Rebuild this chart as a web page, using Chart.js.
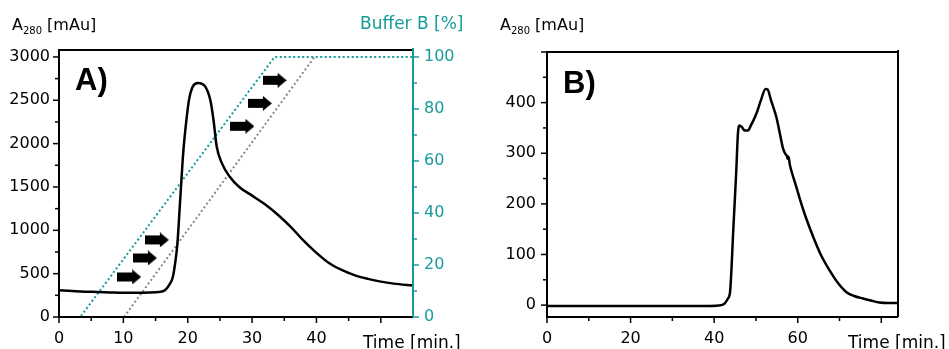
<!DOCTYPE html>
<html>
<head>
<meta charset="utf-8">
<script src="https://cdn.jsdelivr.net/npm/chart.js@4"></script>
<style>
    body { margin: 0; background: #fff; width: 949px; height: 349px; overflow: hidden; position: relative; }
    canvas { position: absolute; top: 0; }
    #chartA { left: 0; }
    #chartB { left: 474px; }
</style>
</head>
<body>
<canvas id="chartA" width="474" height="349"></canvas>
<canvas id="chartB" width="475" height="349"></canvas>
<script>
const TEAL = '#169b9b';
const FONT = "'DejaVu Sans', sans-serif";

// Panel A - absorbance trace
const timeA = [0, 2, 5, 8, 10, 12, 14, 15.5, 16.5, 17.2, 17.7, 18.1, 18.4, 18.8, 19.3, 19.8, 20.2, 20.8, 21.6, 22.7, 23.5, 24.0, 24.5, 25.3, 26.5, 28, 30, 32, 34, 36, 38, 40, 42, 44, 46, 48, 50, 52, 55];
const a280A = [310, 300, 290, 283, 280, 280, 282, 288, 312, 380, 465, 650, 850, 1316, 1894, 2275, 2505, 2660, 2700, 2660, 2505, 2275, 1966, 1775, 1620, 1500, 1400, 1300, 1180, 1040, 880, 740, 620, 540, 480, 440, 408, 385, 362];

// Panel A - gradient (Buffer B) and delayed gradient
const bufferTime = [0, 3.3, 33.5, 55];
const bufferB = [0, 0, 100, 100];
const delayTime = [10.1, 39.7];
const delayB = [0, 100];

// Panel A - arrow markers
const arrowTime = [10.9, 13.35, 15.2, 28.5, 31.2, 33.5];
const arrowA280 = [462, 681, 889, 2200, 2465, 2731];

const xTicksA = [0, 5, 10, 15, 20, 25, 30, 35, 40, 45, 50];
const xMajorA = [0, 10, 20, 30, 40, 50];
const xLabelsA = [0, 10, 20, 30, 40];
const yTicksA = [0, 250, 500, 750, 1000, 1250, 1500, 1750, 2000, 2250, 2500, 2750, 3000];
const yLabelsA = [0, 500, 1000, 1500, 2000, 2500, 3000];
const bTicksA = [0, 10, 20, 30, 40, 50, 60, 70, 80, 90, 100];
const bLabelsA = [0, 20, 40, 60, 80, 100];

// Panel B - absorbance trace
const timeB = [0, 10, 20, 30, 38, 41, 42.5, 43.3, 43.8, 44.2, 44.5, 44.9, 45.3, 45.7, 46.1, 46.6, 47.3, 48.1, 48.8, 50.1, 51.2, 52.3, 52.8, 53.6, 54.9, 55.7, 56.5, 57.1, 57.4, 57.6, 57.8, 58.1, 58.6, 59.5, 60.5, 62, 63.6, 65.5, 67.6, 69.5, 71.6, 73.5, 75.6, 77.5, 79.6, 81.5, 84];
const a280B = [-2, -2, -2, -2, -2, -1, 3, 13, 25, 80, 135, 200, 266, 340, 355, 352, 345, 345, 355, 378, 405, 427, 426, 405, 371, 340, 309, 298, 295, 289, 293, 278, 262, 238, 210, 172, 137, 100, 69, 45, 26, 18, 13, 9, 5, 4, 4];

const xTicksB = [0, 10, 20, 30, 40, 50, 60, 70, 80];
const xMajorB = [0, 20, 40, 60, 80];
const xLabelsB = [0, 20, 40, 60];
const yTicksB = [0, 50, 100, 150, 200, 250, 300, 350, 400, 450, 500];
const yMajorB = [0, 100, 200, 300, 400, 500];
const yLabelsB = [0, 100, 200, 300, 400];

function pts(xs, ys) {
    return xs.map((x, i) => ({ x: x, y: ys[i] }));
}

function makeArrow() {
    const c = document.createElement('canvas');
    c.width = 24;
    c.height = 15;
    const g = c.getContext('2d');
    g.fillStyle = '#000';
    g.beginPath();
    g.moveTo(0, 3);
    g.lineTo(15, 3);
    g.lineTo(15, 0);
    g.lineTo(24, 7.5);
    g.lineTo(15, 15);
    g.lineTo(15, 12);
    g.lineTo(0, 12);
    g.closePath();
    g.fill();
    return c;
}

function axis(o) {
    return {
        type: 'linear',
        position: o.position,
        min: o.min,
        max: o.max,
        grid: { display: false },
        border: { display: false },
        afterBuildTicks: s => {
            s.ticks = o.ticks.map(v => ({ value: v }));
            s.$major = o.major;
            s.$color = o.color || '#000';
        },
        afterFit: s => {
            if (o.position === 'bottom') s.height = o.size;
            else s.width = o.size;
        },
        ticks: {
            color: o.color || '#000',
            font: { family: FONT, size: 16 },
            padding: o.pad,
            autoSkip: false,
            maxRotation: 0,
            callback: v => o.labels.includes(v) ? String(v) : ''
        }
    };
}

// Outward tick marks, long for major and short for minor
const tickMarks = {
    id: 'tickMarks',
    afterDraw(chart) {
        const ctx = chart.ctx;
        Object.values(chart.scales).forEach(s => {
            ctx.save();
            ctx.strokeStyle = s.$color;
            ctx.lineWidth = 1.5;
            s.ticks.forEach(t => {
                const len = s.$major.includes(t.value) ? 6 : 4;
                const p = s.getPixelForValue(t.value);
                ctx.beginPath();
                if (s.position === 'bottom') {
                    ctx.moveTo(p, s.top);
                    ctx.lineTo(p, s.top + len);
                } else if (s.position === 'left') {
                    ctx.moveTo(s.right, p);
                    ctx.lineTo(s.right - len, p);
                } else {
                    ctx.moveTo(s.left, p);
                    ctx.lineTo(s.left + len, p);
                }
                ctx.stroke();
            });
            ctx.restore();
        });
    }
};

function drawFrame(chart, rightColor) {
    const { ctx, chartArea: a } = chart;
    ctx.save();
    ctx.lineWidth = 2;
    ctx.strokeStyle = '#000';
    ctx.beginPath();
    ctx.moveTo(a.right, a.top);
    ctx.lineTo(a.left, a.top);
    ctx.lineTo(a.left, a.bottom);
    ctx.lineTo(a.right, a.bottom);
    ctx.stroke();
    ctx.strokeStyle = rightColor;
    ctx.beginPath();
    ctx.moveTo(a.right, a.top - 2);
    ctx.lineTo(a.right, a.bottom);
    ctx.stroke();
    ctx.restore();
}

function drawA280(ctx, x, y) {
    ctx.fillStyle = '#000';
    ctx.font = '16px ' + FONT;
    ctx.fillText('A', x, y);
    x += ctx.measureText('A').width;
    ctx.font = '10px ' + FONT;
    ctx.fillText('280', x, y + 4);
    x += ctx.measureText('280').width;
    ctx.font = '16px ' + FONT;
    ctx.fillText(' [mAu]', x, y);
}

function drawTexts(ctx, t) {
    ctx.save();
    ctx.textBaseline = 'alphabetic';
    ctx.textAlign = 'left';
    drawA280(ctx, t.titleX, 30);
    ctx.font = "bold 31px 'Liberation Sans', sans-serif";
    ctx.fillStyle = '#000';
    ctx.fillText(t.panel, t.panelX, t.panelY);
    ctx.font = '17px ' + FONT;
    ctx.fillText('Time [min.]', t.timeX, 348);
    if (t.buffer) {
        ctx.fillStyle = TEAL;
        ctx.fillText('Buffer B [%]', 360, 29);
    }
    ctx.restore();
}

const baseOptions = {
    responsive: false,
    animation: false,
    devicePixelRatio: 1,
    plugins: { legend: { display: false }, tooltip: { enabled: false } }
};

new Chart(document.getElementById('chartA'), {
    type: 'line',
    data: {
        datasets: [
            {
                data: pts(timeA, a280A), yAxisID: 'y',
                borderColor: '#000', borderWidth: 2.5, pointRadius: 0,
                cubicInterpolationMode: 'monotone'
            },
            {
                data: pts(arrowTime, arrowA280), yAxisID: 'y',
                showLine: false, pointStyle: makeArrow(), pointRadius: 10
            },
            {
                data: pts(bufferTime, bufferB), yAxisID: 'y2',
                borderColor: TEAL, borderWidth: 2, borderDash: [2, 2.5], pointRadius: 0, tension: 0
            },
            {
                data: pts(delayTime, delayB), yAxisID: 'y2',
                borderColor: '#888', borderWidth: 2, borderDash: [2, 2.5], pointRadius: 0, tension: 0
            }
        ]
    },
    options: {
        ...baseOptions,
        layout: { padding: { top: 50, left: 0, right: 0, bottom: 0 } },
        scales: {
            x: axis({ position: 'bottom', min: 0, max: 55, ticks: xTicksA, major: xMajorA, labels: xLabelsA, size: 32, pad: 4 }),
            y: axis({ position: 'left', min: 0, max: 3080, ticks: yTicksA, major: yLabelsA, labels: yLabelsA, size: 59, pad: 1 }),
            y2: axis({ position: 'right', min: 0, max: 3080 / 30, ticks: bTicksA, major: bLabelsA, labels: bLabelsA, size: 61, pad: 3, color: TEAL })
        }
    },
    plugins: [tickMarks, {
        id: 'decorA',
        afterDraw(chart) {
            drawFrame(chart, TEAL);
            drawTexts(chart.ctx, { titleX: 12, panel: 'A)', panelX: 75, panelY: 90, timeX: 363, buffer: true });
        }
    }]
});

new Chart(document.getElementById('chartB'), {
    type: 'line',
    data: {
        datasets: [{
            data: pts(timeB, a280B),
            borderColor: '#000', borderWidth: 2.5, pointRadius: 0,
            cubicInterpolationMode: 'monotone'
        }]
    },
    options: {
        ...baseOptions,
        layout: { padding: { top: 52, left: 0, right: 51, bottom: 0 } },
        scales: {
            x: axis({ position: 'bottom', min: 0, max: 84, ticks: xTicksB, major: xMajorB, labels: xLabelsB, size: 32, pad: 4 }),
            y: axis({ position: 'left', min: -23.5, max: 500, ticks: yTicksB, major: yMajorB, labels: yLabelsB, size: 73, pad: 3 })
        }
    },
    plugins: [tickMarks, {
        id: 'decorB',
        afterDraw(chart) {
            drawFrame(chart, '#000');
            drawTexts(chart.ctx, { titleX: 26, panel: 'B)', panelX: 89, panelY: 93, timeX: 374, buffer: false });
        }
    }]
});
</script>
</body>
</html>
